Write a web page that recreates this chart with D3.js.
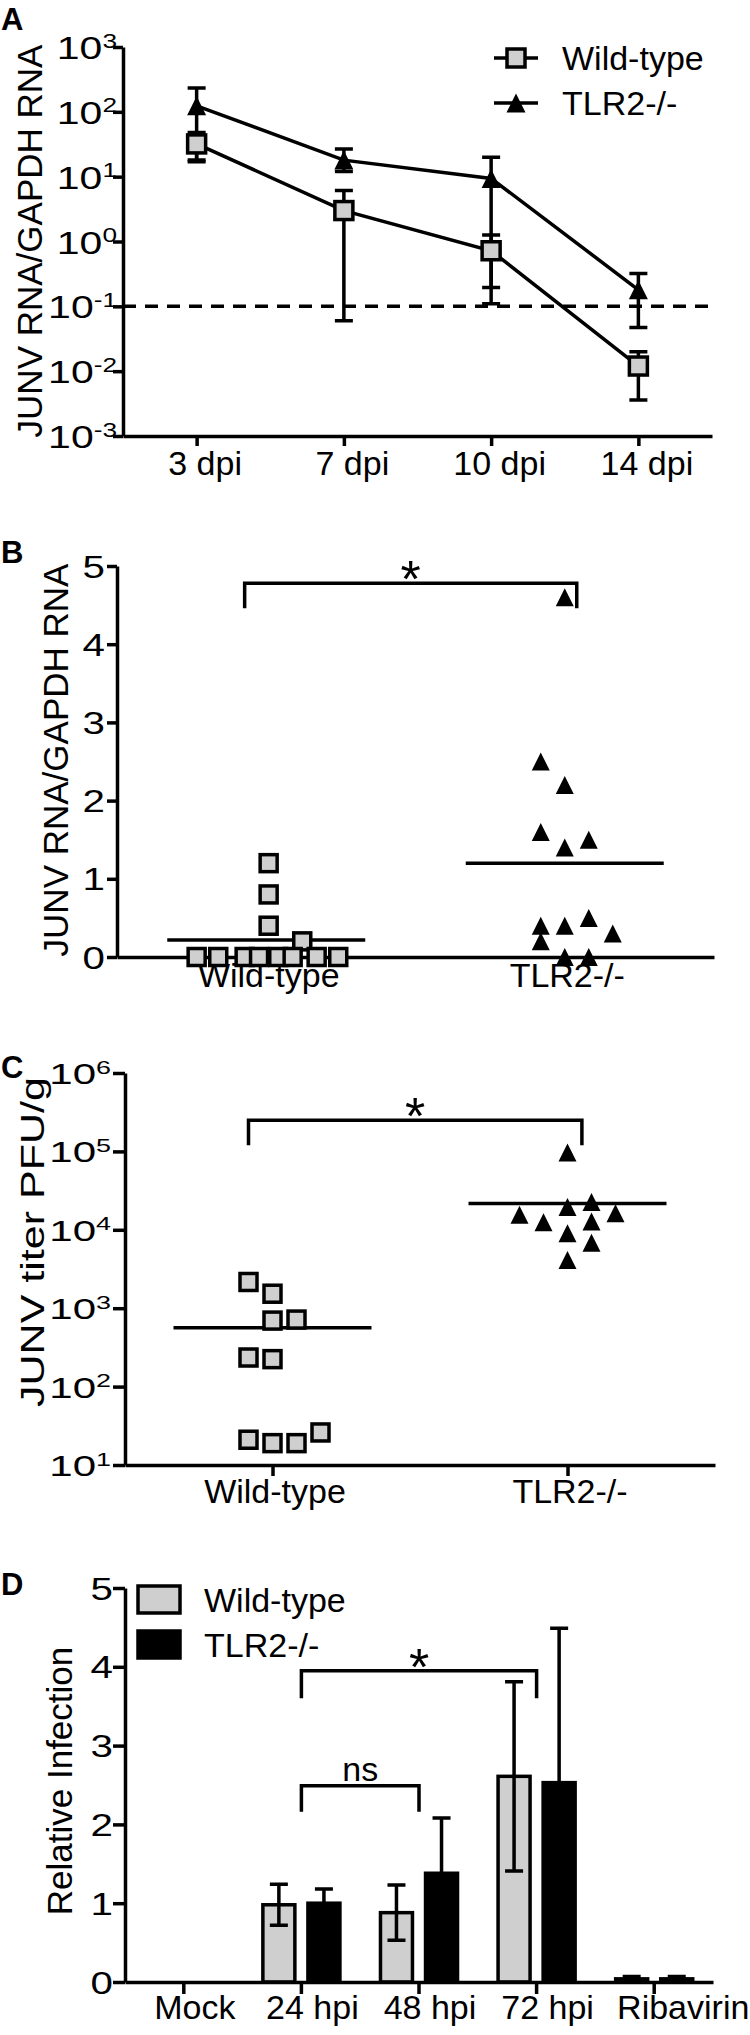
<!DOCTYPE html>
<html>
<head>
<meta charset="utf-8">
<script src="https://cdn.jsdelivr.net/npm/d3@7"></script>
<style>
  body { margin: 0; background: #fff; }
</style>
</head>
<body>
<div id="chart"></div>
<script>
// A: JUNV RNA over time (log scale), mean with error bars
const dpiLabels = ["3 dpi", "7 dpi", "10 dpi", "14 dpi"];
const aWildMean = [32, 3.0, 0.72, 0.012];
const aWildLow = [18, 0.06, 0.196, 0.0036];
const aWildHigh = [48, 6.1, 1.26, 0.02];
const aTlrMean = [124, 18, 9.4, 0.18];
const aTlrLow = [17, 12, 0.11, 0.047];
const aTlrHigh = [233, 26.7, 19.9, 0.32];
const aDetectionLimit = 0.1;
const aTickExps = [-3, -2, -1, 0, 1, 2, 3];

// B: JUNV RNA per animal
const genotypes = ["Wild-type", "TLR2-/-"];
const bWildValues = [1.2, 0.8, 0.4, 0.2, 0, 0, 0, 0, 0, 0, 0, 0];
const bWildSlots = [0.1, 0.1, 0.1, 1.5, -2.9, -2, -0.9, -0.3, 0.5, 1.1, 2.1, 3];
const bTlrValues = [4.6, 2.5, 2.2, 1.6, 1.5, 1.4, 0.5, 0.4, 0.4, 0.3, 0.2, 0, 0];
const bTlrSlots = [0, -1, 0, -1, 1, 0, 1, -1, 0, 2, -1, 0, 1];
const bTicks = [0, 1, 2, 3, 4, 5];

// C: JUNV titer per animal (log scale)
const cWildValues = [2160, 1530, 695, 716, 235, 224, 21, 19, 19, 26];
const cWildSlots = [-1, 0, 0, 1, -1, 0, -1, 0, 1, 2];
const cTlrValues = [96600, 15600, 12500, 19500, 22600, 16300, 12800, 9040, 6850, 4110];
const cTlrSlots = [0, -2, -1, 0, 1, 2, 1, 0, 1, 0];
const cTickExps = [1, 2, 3, 4, 5, 6];

// D: relative infection in vitro
const hpiLabels = ["Mock", "24 hpi", "48 hpi", "72 hpi", "Ribavirin"];
const dWildMean = [0, 0.98, 0.88, 2.61, 0.04];
const dWildErr = [0, 0.26, 0.35, 1.2, 0.03];
const dTlrMean = [0, 1.0, 1.38, 2.53, 0.04];
const dTlrErr = [0, 0.18, 0.7, 1.96, 0.03];
const dTicks = [0, 1, 2, 3, 4, 5];

const FONT = '"Liberation Sans", Arial, Helvetica, sans-serif';
const lw = 3.5, gray = "#cfcfcf", labelSize = 34;

const svg = d3.select("#chart").append("svg")
    .attr("width", 750).attr("height", 2035)
    .attr("font-family", FONT)
    .style("background", "#fff");

const triangle = s => `M0,${-s / 2}L${s / 2},${s / 2}L${-s / 2},${s / 2}Z`;

function styleAxis(g) {
    g.attr("font-family", FONT).attr("font-size", labelSize);
    g.selectAll("path, line").attr("stroke", "#000").attr("stroke-width", lw);
    g.selectAll("text").attr("fill", "#000");
}

// the numbers on the y axes are drawn wide in the original figure
function numLabels(g, off, size, k) {
    g.selectAll(".tick text")
        .attr("x", 0).attr("dy", "0.36em").attr("font-size", size)
        .attr("transform", `translate(${-off},0) scale(${k},1)`);
}

function logLabels(g, off, size, k) {
    numLabels(g, off, size, k);
    g.selectAll(".tick text").text(null).each(function (d) {
        const t = d3.select(this);
        t.append("tspan").text("10");
        t.append("tspan").attr("dy", -size * 0.36).attr("font-size", size * 0.64)
            .text(Math.round(Math.log10(d)));
    });
}

function xLabels(g, offset, dx) {
    g.selectAll(".tick text")
        .attr("y", offset).attr("dy", null).attr("dx", dx)
        .attr("font-size", labelSize);
}

function panelLetter(letter, y) {
    svg.append("text").attr("x", 1).attr("y", y)
        .attr("font-size", 31).attr("font-weight", "bold").text(letter);
}

function yTitle(text, x, y, size, length) {
    const t = svg.append("text")
        .attr("transform", `translate(${x},${y}) rotate(-90)`)
        .attr("text-anchor", "middle")
        .attr("font-size", size)
        .text(text);
    if (length) t.attr("textLength", length).attr("lengthAdjust", "spacingAndGlyphs");
}

function bracket(x1, x2, yTop, yLeg, label, size, labelY) {
    svg.append("path")
        .attr("d", `M${x1},${yLeg}V${yTop}H${x2}V${yLeg}`)
        .attr("fill", "none").attr("stroke", "#000").attr("stroke-width", lw);
    svg.append("text")
        .attr("x", (x1 + x2) / 2).attr("y", labelY)
        .attr("text-anchor", "middle").attr("font-size", size)
        .text(label);
}

function errorBar(g, x, yLo, yHi, cap) {
    g.append("path")
        .attr("d", `M${x},${yLo}V${yHi}M${x - cap / 2},${yLo}H${x + cap / 2}M${x - cap / 2},${yHi}H${x + cap / 2}`)
        .attr("fill", "none").attr("stroke", "#000").attr("stroke-width", lw);
}

function drawSquare(g, cx, cy, s) {
    g.append("rect")
        .attr("x", cx - s / 2).attr("y", cy - s / 2)
        .attr("width", s).attr("height", s)
        .attr("fill", gray).attr("stroke", "#000").attr("stroke-width", lw);
}

function drawTriangle(g, cx, cy, s) {
    g.append("path")
        .attr("transform", `translate(${cx},${cy})`)
        .attr("d", triangle(s))
        .attr("fill", "#000");
}

// ---------- Panel A ----------
{
    const x = d3.scalePoint().domain(dpiLabels).range([123, 712]).padding(0.5);
    const y = d3.scaleLog().domain([1e-3, 1e3]).range([436, 47]);

    svg.append("g").attr("transform", "translate(0,436)")
        .call(d3.axisBottom(x).tickSize(10).tickSizeOuter(0))
        .call(styleAxis).call(g => xLabels(g, 39, 8));

    svg.append("g").attr("transform", "translate(123,0)")
        .call(d3.axisLeft(y).tickValues(aTickExps.map(e => Math.pow(10, e)))
            .tickSize(10).tickSizeOuter(0))
        .call(styleAxis).call(g => logLabels(g, 6, 32, 1.28));

    svg.append("line")
        .attr("x1", 123).attr("x2", 708)
        .attr("y1", y(aDetectionLimit)).attr("y2", y(aDetectionLimit))
        .attr("stroke", "#000").attr("stroke-width", lw)
        .attr("stroke-dasharray", "13,9");

    const series = [
        { name: "Wild-type", mean: aWildMean, low: aWildLow, high: aWildHigh, shape: "square" },
        { name: "TLR2-/-", mean: aTlrMean, low: aTlrLow, high: aTlrHigh, shape: "triangle" }
    ];

    const line = d3.line().x((d, i) => x(dpiLabels[i])).y(d => y(d));
    const gA = svg.append("g");
    series.forEach(s => {
        gA.append("path").attr("d", line(s.mean))
            .attr("fill", "none").attr("stroke", "#000").attr("stroke-width", lw);
    });
    series.forEach(s => {
        dpiLabels.forEach((c, i) => errorBar(gA, x(c), y(s.low[i]), y(s.high[i]), 18));
    });
    series.forEach(s => {
        dpiLabels.forEach((c, i) => {
            if (s.shape === "square") drawSquare(gA, x(c), y(s.mean[i]), 18);
            else drawTriangle(gA, x(c), y(s.mean[i]), 19);
        });
    });

    // legend
    series.forEach((s, i) => {
        const ly = 58 + i * 45;
        svg.append("line").attr("x1", 494).attr("x2", 538).attr("y1", ly).attr("y2", ly)
            .attr("stroke", "#000").attr("stroke-width", lw);
        if (s.shape === "square") drawSquare(svg, 516, ly, 18);
        else drawTriangle(svg, 516, ly, 19);
        svg.append("text").attr("x", 562).attr("y", ly + 12)
            .attr("font-size", labelSize).text(s.name);
    });

    panelLetter("A", 30);
    yTitle("JUNV RNA/GAPDH RNA", 42, 241, 35);
}

// ---------- Panel B ----------
{
    const x = d3.scalePoint().domain(genotypes).range([117, 714]).padding(0.5);
    const y = d3.scaleLinear().domain([0, 5]).range([957, 566]);
    const slot = d3.scaleLinear().domain([0, 1]).range([0, 24]);

    svg.append("g").attr("transform", "translate(0,957)")
        .call(d3.axisBottom(x).tickSize(6).tickSizeOuter(0))
        .call(styleAxis).call(g => xLabels(g, 30, 2));

    svg.append("g").attr("transform", "translate(117,0)")
        .call(d3.axisLeft(y).tickValues(bTicks).tickFormat(d3.format("d"))
            .tickSize(10).tickSizeOuter(0))
        .call(styleAxis).call(g => numLabels(g, 12, 31, 1.3));

    const gB = svg.append("g");
    [[bWildValues, genotypes[0]], [bTlrValues, genotypes[1]]].forEach(([vals, gname]) => {
        const m = d3.mean(vals);
        gB.append("line")
            .attr("x1", x(gname) - 99).attr("x2", x(gname) + 99)
            .attr("y1", y(m)).attr("y2", y(m))
            .attr("stroke", "#000").attr("stroke-width", lw);
    });
    bWildValues.forEach((v, i) => drawSquare(gB, x(genotypes[0]) + slot(bWildSlots[i]), y(v), 17));
    bTlrValues.forEach((v, i) => drawTriangle(gB, x(genotypes[1]) + slot(bTlrSlots[i]), y(v), 18));

    bracket(x(genotypes[0]) + slot(-0.9), x(genotypes[1]) + slot(0.5), y(4.78), y(4.46), "*", 52, y(4.78) + 14);

    panelLetter("B", 563);
    yTitle("JUNV RNA/GAPDH RNA", 68, 760, 35);
}

// ---------- Panel C ----------
{
    const x = d3.scalePoint().domain(genotypes).range([125, 715]).padding(0.5);
    const y = d3.scaleLog().domain([10, 1e6]).range([1465, 1073]);
    const slot = d3.scaleLinear().domain([0, 1]).range([0, 24]);

    svg.append("g").attr("transform", "translate(0,1465)")
        .call(d3.axisBottom(x).tickSize(11).tickSizeOuter(0))
        .call(styleAxis).call(g => xLabels(g, 38, 2));

    svg.append("g").attr("transform", "translate(125,0)")
        .call(d3.axisLeft(y).tickValues(cTickExps.map(e => Math.pow(10, e)))
            .tickSize(12).tickSizeOuter(0))
        .call(styleAxis).call(g => logLabels(g, 14, 29, 1.45));

    const gC = svg.append("g");
    [[cWildValues, genotypes[0]], [cTlrValues, genotypes[1]]].forEach(([vals, gname]) => {
        const m = d3.mean(vals);
        gC.append("line")
            .attr("x1", x(gname) - 99).attr("x2", x(gname) + 99)
            .attr("y1", y(m)).attr("y2", y(m))
            .attr("stroke", "#000").attr("stroke-width", lw);
    });
    cWildValues.forEach((v, i) => drawSquare(gC, x(genotypes[0]) + slot(cWildSlots[i]), y(v), 17));
    cTlrValues.forEach((v, i) => drawTriangle(gC, x(genotypes[1]) + slot(cTlrSlots[i]), y(v), 18));

    bracket(x(genotypes[0]) + slot(-1), x(genotypes[1]) + slot(0.6), y(2.5e5), y(1.2e5), "*", 52, y(2.5e5) + 14);

    panelLetter("C", 1078);
    yTitle("JUNV titer PFU/g", 44, 1242, 33, 330);
}

// ---------- Panel D ----------
{
    const x0 = d3.scaleBand().domain(hpiLabels).range([125, 713]);
    const x1 = d3.scaleBand().domain(genotypes).range([0, x0.bandwidth()])
        .paddingInner(0.29).paddingOuter(0.45);
    const y = d3.scaleLinear().domain([0, 5]).range([1982, 1588]);

    const rows = hpiLabels.flatMap((c, i) => [
        { cat: c, g: genotypes[0], v: dWildMean[i], e: dWildErr[i] },
        { cat: c, g: genotypes[1], v: dTlrMean[i], e: dTlrErr[i] }
    ]);

    const gD = svg.append("g");
    gD.selectAll("rect").data(rows.filter(d => d.v > 0)).enter().append("rect")
        .attr("x", d => x0(d.cat) + x1(d.g))
        .attr("y", d => y(d.v))
        .attr("width", x1.bandwidth())
        .attr("height", d => y(0) - y(d.v))
        .attr("fill", d => d.g === genotypes[0] ? gray : "#000")
        .attr("stroke", "#000").attr("stroke-width", lw);

    rows.filter(d => d.v > 0).forEach(d => {
        const cx = x0(d.cat) + x1(d.g) + x1.bandwidth() / 2;
        errorBar(gD, cx, y(Math.max(0, d.v - d.e)), y(d.v + d.e), 18);
    });

    svg.append("g").attr("transform", "translate(0,1982)")
        .call(d3.axisBottom(x0).tickSize(12).tickSizeOuter(0))
        .call(styleAxis)
        .call(g => xLabels(g, 37, 11))
        .call(g => g.selectAll(".tick text").filter(d => d === "Ribavirin").attr("dx", 29));

    svg.append("g").attr("transform", "translate(125,0)")
        .call(d3.axisLeft(y).tickValues(dTicks).tickFormat(d3.format("d"))
            .tickSize(12).tickSizeOuter(0))
        .call(styleAxis).call(g => numLabels(g, 12, 31, 1.3));

    const xc = c => x0(c) + x0.bandwidth() / 2;
    bracket(xc("24 hpi"), xc("72 hpi"), y(3.95), y(3.6), "*", 52, y(3.95) + 14);
    bracket(xc("24 hpi"), xc("48 hpi"), y(2.49), y(2.16), "ns", 34, y(2.49) - 5);

    genotypes.forEach((gname, i) => {
        const ly = 1586 + i * 45;
        svg.append("rect").attr("x", 138).attr("y", ly).attr("width", 42).attr("height", 27)
            .attr("fill", i === 0 ? gray : "#000").attr("stroke", "#000").attr("stroke-width", lw);
        svg.append("text").attr("x", 204).attr("y", ly + 26)
            .attr("font-size", labelSize).text(gname);
    });

    panelLetter("D", 1595);
    yTitle("Relative Infection", 72, 1781, 35);
}
</script>
</body>
</html>
